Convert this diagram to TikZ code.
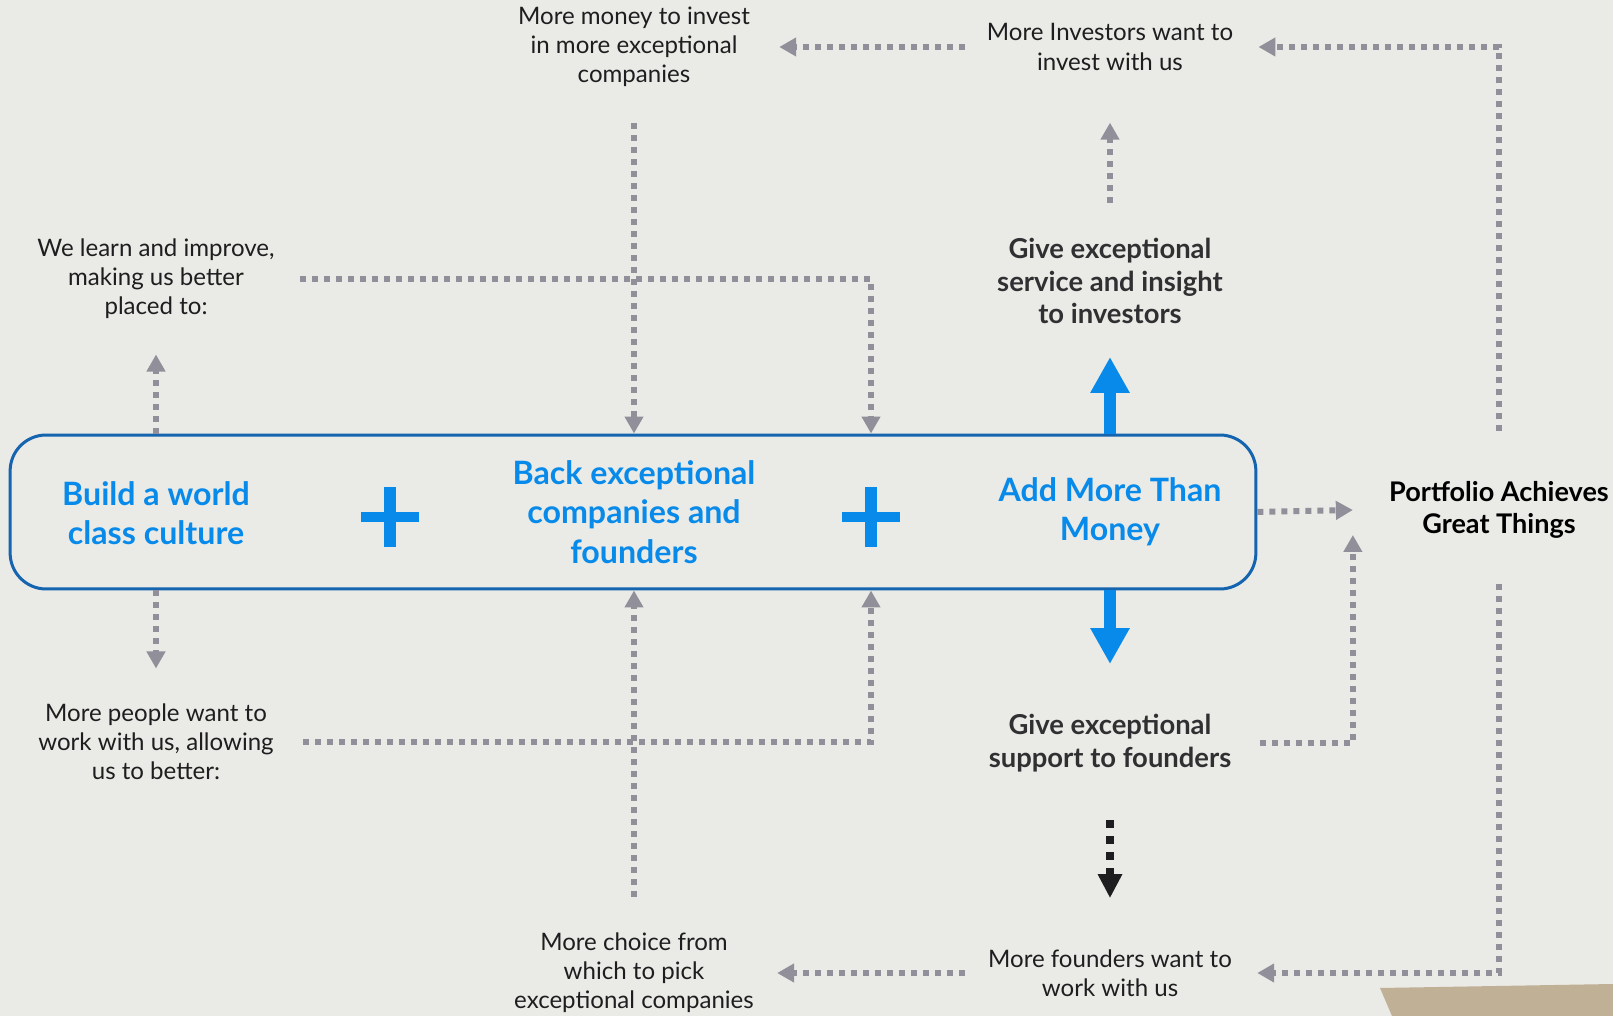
\documentclass[tikz,border=0pt]{standalone}
\usepackage{fontspec}
\setmainfont{Lato}
\usetikzlibrary{arrows.meta,positioning,calc}
\definecolor{bgcol}{RGB}{234,234,230}
\definecolor{loopgray}{RGB}{145,144,154}
\definecolor{textblue}{RGB}{8,138,234}
\definecolor{boxblue}{RGB}{20,100,175}
\definecolor{headgray}{RGB}{48,48,50}
\definecolor{notecol}{RGB}{30,30,32}
\definecolor{woodtan}{RGB}{192,176,150}

\begin{document}
\begin{tikzpicture}[x=0.02cm, y=-0.02cm,
  every node/.style={align=center, inner sep=0pt},
  note/.style={font=\fontsize{13.7}{16.6}\selectfont, text=notecol},
  pillar/.style={font=\fontsize{18.3}{22.4}\selectfont\bfseries, text=textblue},
  outcome/.style={font=\fontsize{15.6}{18.4}\selectfont\bfseries, text=headgray},
  loop/.style={draw=loopgray, line width=0.12cm, dash pattern=on 0.12cm off 0.12cm, -{Triangle[length=0.34cm,width=0.36cm]}},
  push/.style={draw=textblue, line width=0.25cm, -{Triangle[length=0.72cm,width=0.74cm]}}]
\useasboundingbox (0,0) rectangle (1613,1016);
\fill[bgcol] (0,0) rectangle (1613,1016);
\fill[woodtan] (1380,988) -- (1613,984) -- (1613,1016) -- (1392,1016) -- cycle;

% the three pillars
\node[draw=boxblue, line width=0.06cm, rounded corners=0.72cm, minimum width=24.92cm, minimum height=3.08cm] (box) at (633,512) {};
\node[pillar] (culture) at (156,513) {Build a world\\class culture};
\node[pillar] (back) at (634,512) {Back exceptional\\companies and\\founders};
\node[pillar] (add) at (1110,512) {Add More Than\\Money};
\coordinate (plusA) at (390,517);
\coordinate (plusB) at (871,517);
\foreach \p in {plusA,plusB} {
  \fill[textblue] ($(\p)+(-29,-5)$) rectangle ++(58,10);
  \fill[textblue] ($(\p)+(-6,-30)$) rectangle ++(12,60);
}
\node[font=\fontsize{15.4}{18.4}\selectfont\bfseries, text=black] (portfolio) at (1499,510) {Portfolio Achieves\\Great Things};

% outer notes
\node[note] (learn) at (156,279) {We learn and improve,\\making us better\\placed to:};
\node[note] (people) at (156,742) {More people want to\\work with us, allowing\\us to better:};
\node[note] (money) at (634,47) {More money to invest\\in more exceptional\\companies};
\node[note] (investors) at (1110,47) {More Investors want to\\invest with us};
\node[note] (choice) at (634,973) {More choice from\\which to pick\\exceptional companies};
\node[note] (founders) at (1110,973) {More founders want to\\work with us};
\node[outcome] (service) at (1110,281) {Give exceptional\\service and insight\\to investors};
\node[outcome] (support) at (1110,743) {Give exceptional\\support to founders};

% loops back into the box
\draw[loop] (culture |- box.north) -- ++(0,-79);
\draw[loop] (culture |- box.south) -- ++(0,78);
\draw[loop, shorten <=0.5cm] (learn.east) -| (plusB |- box.north);
\draw[loop, shorten <=0.58cm] (people.east) -| (plusB |- box.south);
\draw[loop, shorten <=0.72cm] (money.south) -- (money |- box.north);
\draw[loop, shorten <=0.72cm] (choice.north) -- (choice |- box.south);

% investor side
\draw[push, shorten >=0.66cm] (add |- box.north) -- (service.south);
\draw[push, shorten >=1cm] (add |- box.south) -- (support.north);
\draw[loop, shorten <=0.7cm, shorten >=1.04cm] (service.north) -- (investors.south);
\draw[loop, shorten <=0.44cm, shorten >=0.58cm] (investors.west) -- (money.east);
\draw[loop, shorten <=0.46cm, shorten >=0.46cm] (founders.west) -- (choice.east);
\draw[line width=0.16cm, draw=notecol, dash pattern=on 0.16cm off 0.16cm, -{Triangle[length=0.48cm,width=0.46cm]}, shorten <=0.96cm, shorten >=1.02cm] (support.south) -- (founders.north);

% portfolio
\draw[loop] (box.east) -- ($(portfolio.west)+(-36,0)$);
\draw[loop, shorten <=0.56cm] (support.east) -| ($(portfolio.west)+(-36,25)$);
\draw[loop, shorten <=1cm, shorten >=0.5cm] (portfolio.north) |- (investors.east);
\draw[loop, shorten <=0.9cm, shorten >=0.5cm] (portfolio.south) |- (founders.east);
\end{tikzpicture}
\end{document}
